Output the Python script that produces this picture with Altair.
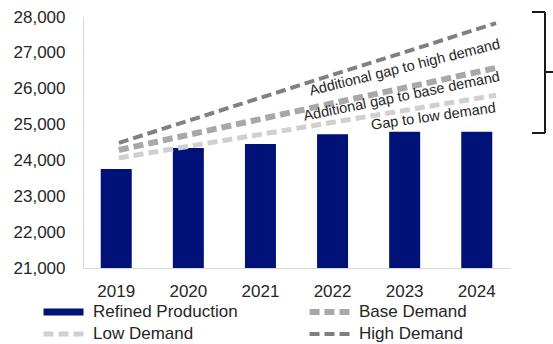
import altair as alt
import pandas as pd

years = ["2019", "2020", "2021", "2022", "2023", "2024"]
year_nums = [2019, 2020, 2021, 2022, 2023, 2024]
refined = [23760, 24350, 24460, 24730, 24800, 24800]
low_demand = [24070, 24420, 24770, 25120, 25470, 25820]
base_demand = [24290, 24750, 25210, 25670, 26120, 26580]
high_demand = [24490, 25160, 25830, 26500, 27160, 27830]

series_names = ["Refined Production", "Base Demand", "Low Demand", "High Demand"]
series_colors = ["#001178", "#a8a8a8", "#d0d0d0", "#808080"]
series_dash = [[1, 0], [10, 5], [10, 5], [10, 5]]
series_width = [7, 4, 4, 4]

ann_text = ["Additional gap to high demand", "Additional gap to base demand", "Gap to low demand"]
ann_x = [2022.79, 2022.75, 2023.17]
ann_y = [26577, 25769, 25211]
ann_angle = [346, 348.5, 352]

y_ticks = [21000, 22000, 23000, 24000, 25000, 26000, 27000, 28000]
y_base = 21000

bars_df = pd.DataFrame({"year": years, "value": refined})
lines_df = pd.DataFrame({
    "year": year_nums * 3,
    "value": low_demand + base_demand + high_demand,
    "series": ["Low Demand"] * 6 + ["Base Demand"] * 6 + ["High Demand"] * 6,
})
ann_df = pd.DataFrame({"text": ann_text, "x": ann_x, "value": ann_y, "angle": ann_angle})

FONT = "Liberation Sans"
TXT = "#262626"

y_scale = alt.Scale(domain=[21000, 28000], nice=False, zero=False)
y_axis = alt.Axis(values=y_ticks, labelExpr="format(datum.value, ',')", ticks=False, grid=False,
                  domainColor="#d9d9d9", labelFontSize=17, labelFont=FONT,
                  labelColor=TXT, labelPadding=18)
x_line_scale = alt.Scale(domain=[2018.525, 2024.185], nice=False, zero=False)

bars = alt.Chart(bars_df).mark_bar(color="#001178").encode(
    x=alt.X("year:N", title=None,
            scale=alt.Scale(paddingInner=0.57, paddingOuter=0.246),
            axis=alt.Axis(labelAngle=0, ticks=False, domainColor="#d9d9d9",
                          labelFontSize=17, labelFont=FONT, labelColor=TXT,
                          labelPadding=15)),
    y=alt.Y("value:Q", title=None, scale=y_scale, axis=y_axis),
    y2=alt.datum(y_base),
)

leg = alt.Legend(
    title=None, orient="none", legendX=-43, legendY=286, direction="horizontal",
    columns=2, columnPadding=68, rowPadding=4, symbolType="stroke",
    symbolSize=1600, clipHeight=18, labelFontSize=17, labelFont=FONT, labelColor=TXT,
    labelOffset=6,
)

lines = alt.Chart(lines_df).mark_line().encode(
    x=alt.X("year:Q", scale=x_line_scale, axis=None),
    y=alt.Y("value:Q", title=None, scale=y_scale, axis=y_axis),
    color=alt.Color("series:N", scale=alt.Scale(domain=series_names, range=series_colors), legend=leg),
    strokeDash=alt.StrokeDash("series:N", scale=alt.Scale(domain=series_names, range=series_dash), legend=leg),
    strokeWidth=alt.StrokeWidth("series:N", scale=alt.Scale(domain=series_names, range=series_width), legend=leg),
)

ann = alt.Chart(ann_df).mark_text(fontSize=14.5, font=FONT, color=TXT).encode(
    x=alt.X("x:Q", scale=x_line_scale, axis=None),
    y=alt.Y("value:Q", title=None, scale=y_scale, axis=y_axis),
    text="text:N",
    angle=alt.Angle("angle:Q", scale=None),
)

brace_color = "#1a1a1a"
b1 = alt.Chart().mark_rule(color=brace_color, strokeWidth=2).encode(
    x=alt.value(449), x2=alt.value(462), y=alt.value(-5))
b2 = alt.Chart().mark_rule(color=brace_color, strokeWidth=2).encode(
    x=alt.value(462), y=alt.value(-5), y2=alt.value(116))
b3 = alt.Chart().mark_rule(color=brace_color, strokeWidth=2).encode(
    x=alt.value(449), x2=alt.value(462), y=alt.value(116))
b4 = alt.Chart().mark_rule(color=brace_color, strokeWidth=2).encode(
    x=alt.value(462), x2=alt.value(470), y=alt.value(55))

chart = alt.layer(bars, lines, ann, b1, b2, b3, b4).resolve_scale(
    x="independent"
).properties(
    width=427, height=251,
    padding={"left": 83, "top": 17, "right": 43, "bottom": 76},
    autosize="none",
    background="white",
).configure_view(stroke=None)

chart.save("out.html", embed_options={"renderer": "svg", "actions": False})
